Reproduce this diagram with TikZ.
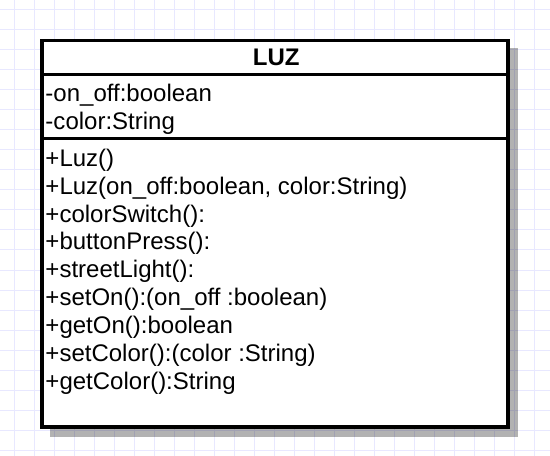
\documentclass[tikz,border=0pt]{standalone}
\usepackage{fontspec}
\setmainfont{Liberation Sans}
\begin{document}
\begin{tikzpicture}[x=1bp, y=-1bp,
  gridline/.style={draw=gridblue, line width=1bp},
  classbox/.style={draw=black, fill=white, line width=3.3bp, inner sep=0pt, outer sep=0pt,
    minimum width=466bp, minimum height=386.5bp, anchor=north west},
  divider/.style={draw=black, line width=2.7bp},
  shadowbox/.style={fill=black, fill opacity=0.3},
  member/.style={anchor=base west, inner sep=0pt, font=\fontsize{24.1}{28}\selectfont},
  title/.style={anchor=base, inner sep=0pt, font=\fontsize{24.1}{28}\selectfont\bfseries}]
\definecolor{gridblue}{RGB}{232,232,255}
\useasboundingbox (0,0) rectangle (550,456);
\fill[white] (0,0) rectangle (550,456);
% background grid
\foreach \gx in {14,34,...,534} \draw[gridline] (\gx,0) -- (\gx,456);
\foreach \gy in {10,30,...,450} \draw[gridline] (0,\gy) -- (550,\gy);
% drop shadow of the class box
\fill[shadowbox] (50,48) rectangle (518,437);
% class box
\node[classbox] (luz) at (42,40.5) {};
\coordinate (d1) at (42,74.5);
\coordinate (d2) at (42,138.5);
\draw[divider] (d1) -- (d1 -| luz.east);
\draw[divider] (d2) -- (d2 -| luz.east);
% class name
\node[title] (name) at (276.3,65.5) {LUZ};
% attributes
\node[member] (a1) at (45.3,101.7) {-on\_off:boolean};
\node[member] (a2) at (45.3,129.8) {-color:String};
% operations
\node[member] (m1) at (45.3,166.6) {+Luz()};
\node[member] (m2) at (45.3,194.4) {+Luz(on\_off:boolean, color:String)};
\node[member] (m3) at (45.3,222.2) {+colorSwitch():};
\node[member] (m4) at (45.3,250.0) {+buttonPress():};
\node[member] (m5) at (45.3,277.8) {+streetLight():};
\node[member] (m6) at (45.3,305.6) {+setOn():(on\_off :boolean)};
\node[member] (m7) at (45.3,333.4) {+getOn():boolean};
\node[member] (m8) at (45.3,361.2) {+setColor():(color :String)};
\node[member] (m9) at (45.3,389.0) {+getColor():String};
\end{tikzpicture}
\end{document}
